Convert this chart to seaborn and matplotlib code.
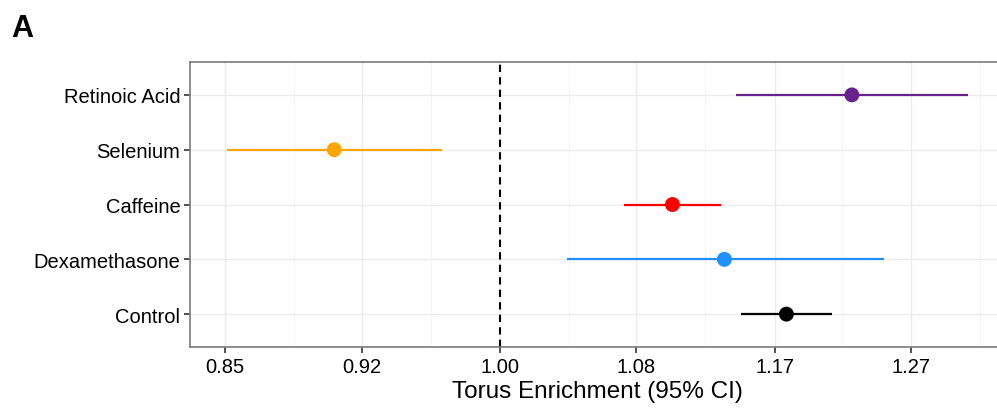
import numpy as np
import pandas as pd
import seaborn as sns
import matplotlib.pyplot as plt
from matplotlib.ticker import FixedLocator, NullFormatter

# données
treatments = ['Retinoic Acid', 'Selenium', 'Caffeine', 'Dexamethasone', 'Control']
estimate = [1.228, 0.908, 1.106, 1.140, 1.182]
ci_low = [1.148, 0.853, 1.075, 1.040, 1.151]
ci_high = [1.314, 0.967, 1.138, 1.251, 1.214]
colors = ['#68228B', '#FFA500', '#FF0000', '#1E90FF', '#000000']

# graduations (espacées en log)
tick_values = [0.852, 0.923, 1.000, 1.083, 1.174, 1.271]
tick_labels = ['0.85', '0.92', '1.00', '1.08', '1.17', '1.27']
minor_values = [0.787, 0.887, 0.961, 1.041, 1.127, 1.221, 1.323]

df = pd.DataFrame({'treatment': treatments, 'est': estimate,
                   'lo': ci_low, 'hi': ci_high})
df['pos'] = np.arange(len(df))

sns.set_style('white')
plt.rcParams['font.family'] = ['Liberation Sans', 'DejaVu Sans']
plt.rcParams['text.color'] = 'black'
plt.rcParams['axes.labelcolor'] = 'black'

fig = plt.figure(figsize=(9.97, 4.10), dpi=100)
ax = fig.add_axes([0.1906, 0.1512, 0.8174, 0.6951])

ax.set_xscale('log')

# IC
for i, row in df.iterrows():
    ax.hlines(row['pos'], row['lo'], row['hi'], color=colors[i], lw=1.6, zorder=3)

sns.scatterplot(data=df, x='est', y='pos', hue='treatment', palette=colors,
                s=115, linewidth=0, legend=False, ax=ax, zorder=4)

ax.axvline(1.0, color='black', ls=(0, (3.5, 2.5)), lw=1.5, zorder=2)

# limites à la ggplot (expansion 5 %)
llo, lhi = np.log(min(ci_low)), np.log(max(ci_high))
pad = (lhi - llo) * 0.05
ax.set_xlim(np.exp(llo - pad), np.exp(lhi + pad))
ax.set_ylim(len(df) - 0.4, -0.6)

ax.xaxis.set_major_locator(FixedLocator(tick_values))
ax.set_xticklabels(tick_labels)
ax.xaxis.set_minor_locator(FixedLocator(minor_values))
ax.xaxis.set_minor_formatter(NullFormatter())
ax.set_yticks(df['pos'])
ax.set_yticklabels(treatments)

ax.grid(True, which='major', color='#EBEBEB', lw=1.0, zorder=0)
ax.grid(True, which='minor', axis='x', color='#F4F4F4', lw=0.8, zorder=0)
ax.set_axisbelow(True)

ax.tick_params(axis='both', which='major', length=4, width=1.2, color='#333333',
               labelsize=14.5, labelcolor='black', pad=3, direction='out',
               bottom=True, left=True)
ax.tick_params(axis='x', which='minor', length=0)
for s in ax.spines.values():
    s.set_color('#7A7A7A')
    s.set_linewidth(1.2)

ax.set_xlabel('Torus Enrichment (95% CI)', fontsize=17.5, labelpad=3)
ax.set_ylabel('')

fig.text(0.011, 0.91, 'A', fontsize=22, fontweight='bold')

fig.savefig('out.png', dpi=100)
